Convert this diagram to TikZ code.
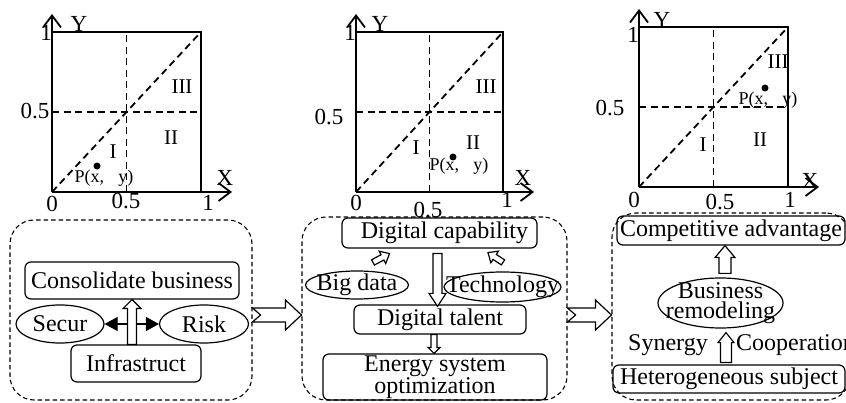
\documentclass[tikz,border=0pt]{standalone}
\usepackage{fontspec}
\setmainfont{Liberation Serif}
\usetikzlibrary{arrows.meta,calc,shapes.geometric}

% hollow block arrow: #1 tail, #2 tip, #3 shaft half width, #4 head half width, #5 head length
\newcommand\blockarrow[5]{%
  \coordinate (ba-h) at ($(#2)!#5!(#1)$);
  \draw[blockline] ($(#1)!#3!90:(#2)$) -- ($(ba-h)!#3!-90:(#1)$) -- ($(ba-h)!#4!-90:(#1)$)
    -- (#2) -- ($(ba-h)!#4!90:(#1)$) -- ($(ba-h)!#3!90:(#1)$) -- ($(#1)!#3!-90:(#2)$) -- cycle;}
% the same with a notched tail, #6 notch depth
\newcommand\notcharrow[6]{%
  \coordinate (ba-h) at ($(#2)!#5!(#1)$);
  \draw[blockline] ($(#1)!#3!90:(#2)$) -- ($(ba-h)!#3!-90:(#1)$) -- ($(ba-h)!#4!-90:(#1)$)
    -- (#2) -- ($(ba-h)!#4!90:(#1)$) -- ($(ba-h)!#3!90:(#1)$) -- ($(#1)!#3!-90:(#2)$)
    -- ($(#1)!#6!(#2)$) -- cycle;}
% unit square with axes and the three-zone partition, #1 = width
\newcommand\quadaxes[1]{%
  \draw[axisline, axtip] (0,0) -- (#1+31,0);
  \draw[axisline, axtip] (0,0) -- (0,178);
  \draw[axisline] (0,160) -- (#1,160) -- (#1,0);
  \draw[guide] (#1/2,0) -- (#1/2,160);
  \draw[guide] (0,80) -- (#1,80);
  \draw[guide] (0,0) -- (#1,160);}

\begin{document}
\begin{tikzpicture}[x=1pt, y=-1pt,
  txt/.style={font=\fontsize{24}{20}\selectfont},
  axisline/.style={line width=1.8pt},
  axtip/.style={-{Straight Barb[length=12pt,width=18pt]}},
  guide/.style={line width=1.8pt, dash pattern=on 7pt off 4.5pt},
  frame/.style={draw, line width=1.1pt, dash pattern=on 4.5pt off 3pt, rounded corners=24pt},
  box/.style={draw, line width=1.2pt, rounded corners=6pt, inner sep=0pt, txt},
  oval/.style={draw, ellipse, line width=1.2pt, inner sep=0pt},
  blockline/.style={fill=white, line width=1.2pt, line join=miter},
  axlab/.style={font=\fontsize{23}{23}\selectfont, inner sep=0pt},
  zone/.style={font=\fontsize{21}{21}\selectfont, inner sep=0pt},
  ptlab/.style={font=\fontsize{18}{18}\selectfont, inner sep=0pt},
  dot/.style={circle, fill, inner sep=0pt, minimum size=7pt}]

\fill[white] (0,0) rectangle (846,403);
\clip (0,0) rectangle (846,403);

% ---------- first chart ----------
\begin{scope}[shift={(52,192)}, y=1pt]
  \quadaxes{149}
  \node[axlab] (aY) at (27,168) {Y};
  \node[axlab] (a1l) at (-6,159) {1};
  \node[axlab] (ahl) at (-17,81) {0.5};
  \node[axlab] (a0) at (0,-12) {0};
  \node[axlab] (ahb) at (74,-9) {0.5};
  \node[axlab] (a1b) at (156,-11) {1};
  \node[axlab] (aX) at (173,14) {X};
  \node[zone] (a3) at (130,105) {III};
  \node[zone] (a2) at (119,54) {II};
  \node[zone] (a1) at (61,40) {I};
  \node[dot] (ap) at (45,26) {};
  \node[ptlab] (apl) at (52,14) {P(x,\hspace{0.8em}y)};
\end{scope}

% ---------- second chart ----------
\begin{scope}[shift={(356,192)}, y=1pt]
  \quadaxes{147}
  \node[axlab] (bY) at (24,168) {Y};
  \node[axlab] (b1l) at (-6,159) {1};
  \node[axlab] (bhl) at (-27,75) {0.5};
  \node[axlab] (b0) at (0,-11) {0};
  \node[axlab] (bhb) at (72,-18) {0.5};
  \node[axlab] (b1b) at (151,-8) {1};
  \node[axlab] (bX) at (167,14) {X};
  \node[zone] (b3) at (130,105) {III};
  \node[zone] (b2) at (117,49) {II};
  \node[zone] (b1) at (60,44) {I};
  \node[dot] (bp) at (97,35) {};
  \node[ptlab] (bpl) at (103,26) {P(x,\hspace{0.8em}y)};
\end{scope}

% ---------- third chart ----------
\begin{scope}[shift={(639,187)}, y=1pt]
  \quadaxes{149}
  \node[axlab] (cY) at (23,167) {Y};
  \node[axlab] (c1l) at (-6,152) {1};
  \node[axlab] (chl) at (-29,79) {0.5};
  \node[axlab] (c0) at (-5,-13) {0};
  \node[axlab] (chb) at (81,-15) {0.5};
  \node[axlab] (c1b) at (151,-13) {1};
  \node[axlab] (cX) at (171,6) {X};
  \node[zone] (c3) at (139,125) {III};
  \node[zone] (c2) at (121,47) {II};
  \node[zone] (c1) at (64,42) {I};
  \node[dot] (cp) at (126,99) {};
  \node[ptlab] (cpl) at (129,87) {P(x,\hspace{0.8em}y)};
\end{scope}

% ---------- first stage ----------
\node[frame, minimum width=242pt, minimum height=180pt] (boxA) at (131,310) {};
\node[box, minimum width=214pt, minimum height=37pt] (cons) at (132,280.5) {Consolidate business};
\node[oval, minimum width=88pt, minimum height=38pt, label={[txt]center:Secur}] (secur) at (60,324) {};
\node[oval, minimum width=89pt, minimum height=38pt, label={[txt]center:Risk}] (risk) at (204,324) {};
\node[box, minimum width=130pt, minimum height=37pt] (infra) at (136,363.5) {Infrastruct};
\draw[line width=1.2pt, {Triangle[length=13pt,width=14pt]}-{Triangle[length=13pt,width=14pt]}] (secur) -- (risk);
\coordinate (upA0) at (infra.north -| cons.south);
\blockarrow{upA0}{cons.south}{4.5pt}{9pt}{9pt}

% ---------- second stage ----------
\node[frame, minimum width=265pt, minimum height=183pt] (boxB) at (434.5,308.5) {};
\node[box, minimum width=195pt, minimum height=30pt] (cap) at (439.5,233) {\hspace{10pt}Digital capability};
\node[oval, minimum width=103pt, minimum height=28pt, label={[txt]center:Big data}] (bigdata) at (357,285) {};
\node[oval, minimum width=117pt, minimum height=30pt, label={[txt]center:Technology}] (tech) at (502.5,287) {};
\node[box, minimum width=172pt, minimum height=29pt] (talent) at (440,319.5) {Digital talent};
\node[box, minimum width=224pt, minimum height=46pt, align=center] (energy) at (435,377) {Energy system\\optimization};
\coordinate (bd0) at ($(bigdata.north)+(16,-8)$);
\coordinate (bd1) at ($(cap.south)+(-50,5)$);
\blockarrow{bd0}{bd1}{3pt}{7pt}{8pt}
\coordinate (te0) at ($(tech.north)+(0.5,-9)$);
\coordinate (te1) at ($(cap.south)+(48.5,4)$);
\blockarrow{te0}{te1}{3pt}{7pt}{8pt}
\coordinate (dn0) at ($(cap.south)+(-2,5)$);
\coordinate (dn1) at ($(talent.north)+(-2.5,2)$);
\blockarrow{dn0}{dn1}{4.5pt}{8.5pt}{13pt}
\coordinate (sm0) at ($(talent.south)+(-6,0)$);
\coordinate (sm1) at ($(energy.north)+(-1,0)$);
\blockarrow{sm0}{sm1}{3pt}{6pt}{6pt}

% ---------- third stage ----------
\node[frame, minimum width=238pt, minimum height=187pt] (boxC) at (731,306.5) {};
\node[box, minimum width=228pt, minimum height=29pt] (comp) at (731,230.5) {Competitive advantage};
\node[oval, minimum width=125pt, minimum height=50pt,
  label={[txt, align=center]center:Business\\remodeling}] (busi) at (720.5,303) {};
\node[box, minimum width=232pt, minimum height=28pt] (hetero) at (729,379) {Heterogeneous subject};
\node[txt, anchor=base, inner sep=0pt] (syn) at (668,350) {Synergy};
\node[txt, anchor=base west, inner sep=0pt] (coop) at (736,350) {Cooperation};
\coordinate (up1a) at ($(busi.north)+(4.5,-4)$);
\coordinate (up1b) at ($(comp.south)+(-6,0)$);
\blockarrow{up1a}{up1b}{6pt}{10pt}{12pt}
\coordinate (up2a) at ($(hetero.north)+(-3,-2)$);
\coordinate (up2b) at ($(busi.south)+(5.5,4)$);
\blockarrow{up2a}{up2b}{5.5pt}{8pt}{10pt}

% ---------- stage transitions ----------
\coordinate (ar) at (0,315);
\coordinate (n1a) at (boxA.east |- ar);
\coordinate (n1b) at (boxB.west |- ar);
\notcharrow{n1a}{n1b}{7pt}{15pt}{16pt}{8pt}
\coordinate (n2a) at (boxB.east |- ar);
\coordinate (n2b) at (boxC.west |- ar);
\notcharrow{n2a}{n2b}{7pt}{15pt}{16pt}{8pt}
\end{tikzpicture}
\end{document}
